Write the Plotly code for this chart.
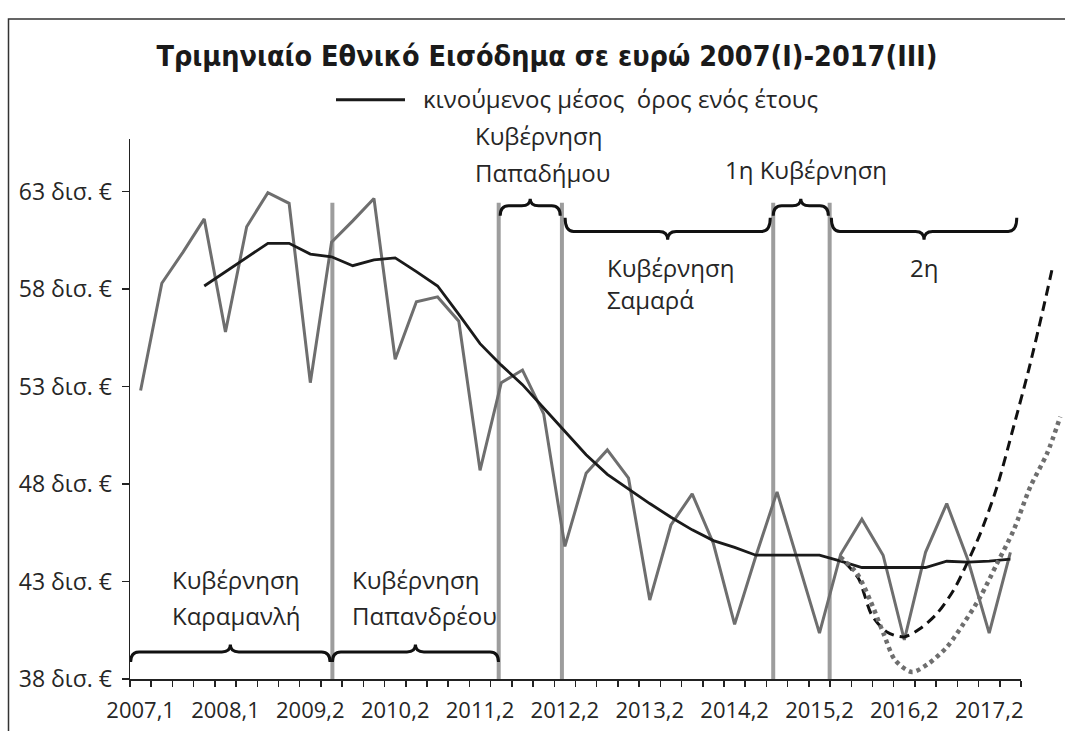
import plotly.graph_objects as go

# ---------------- data ----------------
quarter_index = list(range(42))  # one entry per quarter shown on the category axis
income_bn = [52.8, 58.3, 59.9, 61.6, 55.8, 61.2, 62.95, 62.4, 53.2, 60.4,
             61.5, 62.65, 54.4, 57.35, 57.6, 56.35, 48.7, 53.2, 53.85, 51.6,
             44.8, 48.55, 49.75, 48.3, 42.05, 45.9, 47.5, 44.95, 40.8, 44.3,
             47.6, 44.0, 40.35, 44.4, 46.2, 44.35, 40.0, 44.5, 47.0, 44.1,
             40.35, 44.5]
moving_avg_bn = [None, None, None, 58.16, 58.9, 59.6, 60.35, 60.35, 59.8, 59.66,
                 59.2, 59.5, 59.6, 58.9, 58.16, 56.7, 55.2, 54.1, 53.1, 51.9,
                 50.7, 49.5, 48.5, 47.75, 47.0, 46.3, 45.65, 45.1, 44.75, 44.35,
                 44.35, 44.35, 44.35, 44.05, 43.72, 43.72, 43.72, 43.72, 44.04, 44.0,
                 44.05, 44.15]
trend_dash_x = [33.21, 33.84, 34.47, 35.18, 35.99, 36.75, 37.54, 38.32, 38.95,
                39.58, 40.37, 41.15, 41.86, 42.57, 43.01]
trend_dash_y = [43.96, 43.15, 41.27, 40.41, 40.16, 40.59, 41.36, 42.55, 43.92,
                45.46, 47.86, 50.94, 53.85, 57.1, 59.24]
trend_dot_x = [32.98, 33.77, 34.39, 35.02, 35.57, 36.36, 37.14, 38.01, 38.79,
               39.58, 40.37, 41.15, 41.94, 42.73, 43.35]
trend_dot_y = [44.26, 43.41, 42.04, 40.33, 38.96, 38.36, 38.79, 39.64, 40.84,
               42.21, 43.92, 45.63, 47.86, 49.57, 51.45]
tick_positions = [0, 4, 8, 12, 16, 20, 24, 28, 32, 36, 40]
tick_labels = ["2007,1", "2008,1", "2009,2", "2010,2", "2011,2", "2012,2",
               "2013,2", "2014,2", "2015,2", "2016,2", "2017,2"]
y_ticks = [38, 43, 48, 53, 58, 63]
y_tick_labels = [f"{v} δισ. €" for v in y_ticks]
government_changes = [9.04, 16.88, 19.86, 29.82, 32.48]

# ---------------- geometry / styles ----------------
W, H = 1065, 731
L, T = 130, 139.3
PW, PH = W - L, 539.4           # plot area (margin r = 0)
AXIS_END_PX = 1021              # visible x axis ends here
X_MIN, X_MAX = -0.5, 41.5
PX_PER_UNIT = (AXIS_END_PX - L) / (X_MAX - X_MIN)
Y_MIN, Y_MAX = 38, 65.7

FONT = "Open Sans"
TXT = "#262626"
GRAY = "#6e6e6e"
VGRAY = "#9d9d9d"


def px(x):
    return (x - L) / PW


def py(y):
    return (T + PH - y) / PH


fig = go.Figure()

fig.add_trace(go.Scatter(x=quarter_index, y=income_bn, mode="lines",
                         line=dict(color=GRAY, width=3), showlegend=False,
                         xaxis="x", yaxis="y"))
fig.add_trace(go.Scatter(x=quarter_index, y=moving_avg_bn, mode="lines",
                         line=dict(color="#1a1a1a", width=2.8),
                         name="κινούμενος μέσος  όρος ενός έτους",
                         showlegend=False, xaxis="x", yaxis="y"))
fig.add_trace(go.Scatter(x=trend_dash_x, y=trend_dash_y, mode="lines",
                         line=dict(color="#111111", width=3, dash="10px,6px",
                                   shape="spline", smoothing=0.8),
                         showlegend=False, xaxis="x2", yaxis="y"))
fig.add_trace(go.Scatter(x=trend_dot_x, y=trend_dot_y, mode="lines",
                         line=dict(color=GRAY, width=4.5, dash="4px,4px",
                                   shape="spline", smoothing=0.8),
                         showlegend=False, xaxis="x2", yaxis="y"))

shapes = []
# vertical government-change lines
for xv in government_changes:
    shapes.append(dict(type="line", xref="x", yref="y", x0=xv, x1=xv,
                       y0=Y_MIN, y1=62.43, line=dict(color=VGRAY, width=4),
                       layer="below"))


def brace(x0, x1, y_end, y_line, y_tip, r=0.4):
    xm = (x0 + x1) / 2
    return (f"M {x0},{y_end} Q {x0},{y_line} {x0 + r},{y_line} "
            f"L {xm - r},{y_line} Q {xm},{y_line} {xm},{y_tip} "
            f"Q {xm},{y_line} {xm + r},{y_line} L {x1 - r},{y_line} "
            f"Q {x1},{y_line} {x1},{y_end}")


brace_specs = [
    (-0.47, 8.93, 38.87, 39.39, 39.77),    # Karamanlis
    (9.04, 16.87, 38.87, 39.39, 39.77),    # Papandreou
    (16.95, 19.78, 61.76, 62.28, 62.64),   # Papadimos
    (20.01, 29.68, 61.66, 60.96, 60.53),   # Samaras
    (29.82, 32.42, 61.76, 62.28, 62.64),   # 1st Tsipras
    (32.56, 41.30, 61.66, 60.96, 60.53),   # 2nd Tsipras
]
for b in brace_specs:
    shapes.append(dict(type="path", xref="x", yref="y", path=brace(*b),
                       line=dict(color="#111111", width=3)))

# outer frame (left and top only visible)
shapes.append(dict(type="path", xref="paper", yref="paper",
                   path=f"M {px(8.5)},{py(735)} L {px(8.5)},{py(19.5)} L {px(1070)},{py(19.5)}",
                   line=dict(color="#333333", width=1.5)))
# legend sample line
shapes.append(dict(type="line", xref="paper", yref="paper",
                   x0=px(336), x1=px(405), y0=py(100), y1=py(100),
                   line=dict(color="#1a1a1a", width=3)))

annotations = []


def label(text, x, y, anchor="left", size=24):
    annotations.append(dict(text=text, xref="paper", yref="paper", x=px(x), y=py(y),
                            xanchor=anchor, yanchor="middle", showarrow=False,
                            font=dict(family=FONT, size=size, color=TXT)))


label("κινούμενος μέσος  όρος ενός έτους", 421, 99, size=24)
label("Κυβέρνηση", 473, 136)
label("Παπαδήμου", 473, 173)
label("1η Κυβέρνηση", 723, 170)
label("Κυβέρνηση", 605, 268)
label("Σαμαρά", 605, 300)
label("2η", 908, 268)
label("Κυβέρνηση", 170, 579)
label("Καραμανλή", 170, 615)
label("Κυβέρνηση", 350, 579)
label("Παπανδρέου", 350, 615)

fig.update_layout(
    width=W, height=H,
    margin=dict(l=L, r=0, t=T, b=H - T - PH, pad=0),
    paper_bgcolor="white", plot_bgcolor="rgba(0,0,0,0)",
    showlegend=False,
    title=dict(text="Τριμηνιαίο Εθνικό Εισόδημα σε ευρώ 2007(I)-2017(III)",
               xref="paper", x=px(547), xanchor="center",
               yref="container", y=1 - 56 / H, yanchor="middle",
               font=dict(family="DejaVu Sans Condensed, Roboto", size=28.5,
                         weight="bold", color="#1a1a1a")),
    xaxis=dict(domain=[0, (AXIS_END_PX - L) / PW], range=[X_MIN, X_MAX],
               showgrid=False, zeroline=False, showline=True, linecolor="#222222",
               linewidth=1.5, tickmode="array", tickvals=tick_positions,
               ticktext=tick_labels, ticks="", automargin=False,
               ticklabelstandoff=11,
               tickfont=dict(family=FONT, size=22, color=TXT),
               minor=dict(tickmode="array",
                          tickvals=[X_MIN + i for i in range(43)],
                          ticks="outside", ticklen=6, tickwidth=1.5,
                          tickcolor="#222222", showgrid=False),
               anchor="y", fixedrange=True),
    xaxis2=dict(domain=[0, 1], range=[X_MIN, X_MIN + PW / PX_PER_UNIT],
                visible=False, anchor="y", fixedrange=True),
    yaxis=dict(range=[Y_MIN, Y_MAX], showgrid=False, zeroline=False, showline=True,
               linecolor="#222222", linewidth=1.5, tickmode="array",
               tickvals=y_ticks, ticktext=y_tick_labels, ticks="outside",
               ticklen=7, tickwidth=1.5, tickcolor="#222222",
               ticklabelstandoff=5,
               tickfont=dict(family=FONT, size=23, color=TXT),
               anchor="x", automargin=False, fixedrange=True),
    shapes=shapes,
    annotations=annotations,
)

fig.write_html("out.html",
               config={"displayModeBar": False, "staticPlot": True},
               post_script="document.body.style.margin='0px';"
                           "document.body.style.overflow='hidden';")
